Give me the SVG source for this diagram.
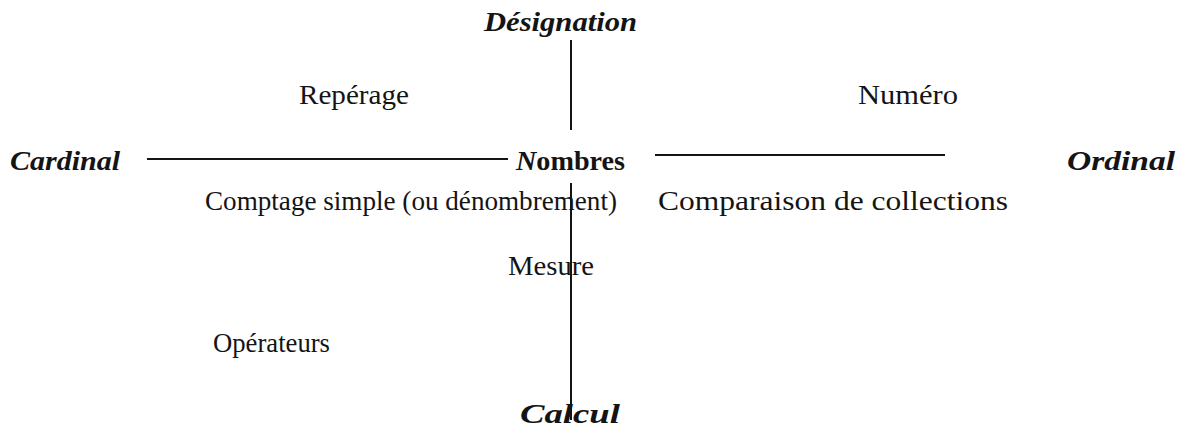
<svg xmlns="http://www.w3.org/2000/svg" width="1183" height="441" viewBox="0 0 1183 441">
<style>
text{font-family:"Liberation Serif","Times New Roman",serif;font-size:28px;fill:#141414}
.axis{font-weight:bold;font-style:italic}
.bold{font-weight:bold}
.ln{stroke:#141414;stroke-width:2;fill:none}
</style>
<rect width="1183" height="441" fill="#ffffff"/>
<g id="connectors">
<line class="ln" x1="571" y1="40" x2="571" y2="130"/>
<line class="ln" x1="571" y1="183" x2="571" y2="420"/>
<line class="ln" x1="147" y1="159" x2="508" y2="159"/>
<line class="ln" x1="655" y1="155" x2="945" y2="155"/>
</g>
<g id="designation"><text class="axis" x="484" y="31" textLength="153" lengthAdjust="spacingAndGlyphs">Désignation</text></g>
<g id="calcul"><text class="axis" x="520" y="423" textLength="100" lengthAdjust="spacingAndGlyphs">Calcul</text></g>
<g id="cardinal"><text class="axis" x="10" y="170" textLength="110" lengthAdjust="spacingAndGlyphs">Cardinal</text></g>
<g id="ordinal"><text class="axis" x="1067" y="170" textLength="108" lengthAdjust="spacingAndGlyphs">Ordinal</text></g>
<g id="nombres"><text class="bold" x="516" y="170" textLength="109" lengthAdjust="spacingAndGlyphs"><tspan font-style="italic">N</tspan>ombres</text></g>
<g id="reperage"><text x="299" y="104" textLength="110" lengthAdjust="spacingAndGlyphs">Repérage</text></g>
<g id="numero"><text x="858" y="104" textLength="100" lengthAdjust="spacingAndGlyphs">Numéro</text></g>
<g id="comptage"><text x="205" y="210" textLength="412" lengthAdjust="spacingAndGlyphs">Comptage simple (ou dénombrement)</text></g>
<g id="comparaison"><text x="658" y="210" textLength="350" lengthAdjust="spacingAndGlyphs">Comparaison de collections</text></g>
<g id="mesure"><text x="508" y="275" textLength="86" lengthAdjust="spacingAndGlyphs">Mesure</text></g>
<g id="operateurs"><text x="213" y="352" textLength="117" lengthAdjust="spacingAndGlyphs">Opérateurs</text></g>
</svg>
